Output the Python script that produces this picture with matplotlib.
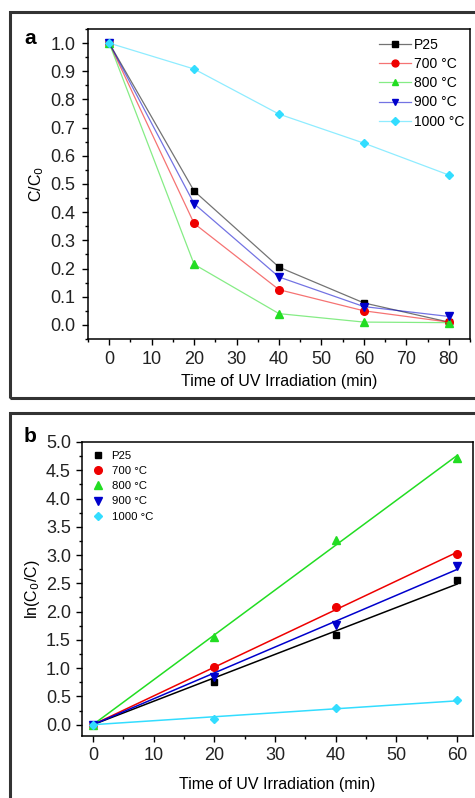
import numpy as np
import matplotlib.pyplot as plt
from matplotlib.patches import Rectangle
from matplotlib.ticker import MultipleLocator
from matplotlib.colors import to_rgba

plt.rcParams['font.family'] = ['Liberation Sans', 'DejaVu Sans']

labels = ["P25", "700 °C", "800 °C", "900 °C", "1000 °C"]
colors = ["#000000", "#ee0000", "#22dd22", "#0000cc", "#33ddff"]
markers = ["s", "o", "^", "v", "D"]

# panel a: C/C0 vs time
t_a = [0, 20, 40, 60, 80]
cc0 = [
    [1.0, 0.475, 0.205, 0.078, 0.010],
    [1.0, 0.360, 0.125, 0.050, 0.010],
    [1.0, 0.215, 0.040, 0.010, 0.008],
    [1.0, 0.430, 0.170, 0.065, 0.030],
    [1.0, 0.908, 0.748, 0.645, 0.532],
]

# panel b: ln(C0/C) vs time
t_b = [0, 20, 40, 60]
lnc = [
    [0, 0.75, 1.59, 2.56],
    [0, 1.02, 2.08, 3.02],
    [0, 1.55, 3.26, 4.72],
    [0, 0.85, 1.77, 2.81],
    [0, 0.10, 0.29, 0.43],
]

W, H = 475, 798
fig = plt.figure(figsize=(W / 100, H / 100), dpi=100)

def frac(x0, y0, x1, y1):
    return [x0 / W, 1 - y1 / H, (x1 - x0) / W, (y1 - y0) / H]

# outer frames
for y0, y1 in [(12, 398), (413, 805)]:
    fig.patches.append(Rectangle((10 / W, 1 - y1 / H), (480 - 10) / W, (y1 - y0) / H,
                                 transform=fig.transFigure, fill=False,
                                 edgecolor="#333333", linewidth=2.2))

def style(ax, pad):
    ax.tick_params(which="major", direction="out", length=4, width=1, labelsize=13, pad=pad,
                   top=False, right=False, labelcolor="#222222")
    ax.tick_params(which="minor", direction="out", length=2.5, width=1, top=False, right=False)
    for s in ax.spines.values():
        s.set_linewidth(1.1)

ms = {"s": 5, "o": 5.5, "^": 5.5, "v": 5.5, "D": 4.5}

ax = fig.add_axes(frac(88, 29, 470, 339))
hs = []
for y, c, m in zip(cc0, colors, markers):
    h, = ax.plot(t_a, y, color=to_rgba(c, 0.55), lw=0.9, marker=m, ms=ms[m],
                 markerfacecolor=c, markeredgecolor=c)
    hs.append(h)
ax.legend(hs, labels, loc="upper right", bbox_to_anchor=(1.0, 0.99), frameon=False,
          fontsize=10, handlelength=2.3, handletextpad=0.2, labelspacing=0.38,
          borderaxespad=0, markerscale=0.9)
ax.set_xlim(-5, 85)
ax.set_ylim(-0.05, 1.05)
ax.xaxis.set_major_locator(MultipleLocator(10))
ax.xaxis.set_minor_locator(MultipleLocator(5))
ax.yaxis.set_major_locator(MultipleLocator(0.1))
ax.yaxis.set_minor_locator(MultipleLocator(0.05))
ax.yaxis.set_major_formatter(plt.FormatStrFormatter("%.1f"))
style(ax, 5)
ax.set_xlabel("Time of UV Irradiation (min)", fontsize=11.5, labelpad=4)
ax.set_ylabel("C/C$_0$", fontsize=11.5, labelpad=3)
fig.text(24 / W, 1 - 44 / H, "a", fontsize=15, fontweight="bold", ha="left", va="baseline")

ax = fig.add_axes(frac(82, 442, 473, 736))
for y, c, m, lab in zip(lnc, colors, markers, labels):
    x = np.array(t_b, dtype=float)
    yy = np.array(y, dtype=float)
    k = np.sum(x * yy) / np.sum(x * x)
    ax.plot([x[0], x[-1]], [k * x[0], k * x[-1]], color=c, lw=1.1)
    ax.plot(t_b, y, ls="none", marker=m, color=c, ms=ms[m], label=lab)
ax.legend(loc="upper left", frameon=False, fontsize=8.2, handlelength=1.2,
          handletextpad=0.6, labelspacing=0.45, borderaxespad=0.4)
ax.set_xlim(-1.8, 62.6)
ax.set_ylim(-0.2, 5.0)
ax.xaxis.set_major_locator(MultipleLocator(10))
ax.xaxis.set_minor_locator(MultipleLocator(5))
ax.yaxis.set_major_locator(MultipleLocator(0.5))
ax.yaxis.set_minor_locator(MultipleLocator(0.25))
ax.yaxis.set_major_formatter(plt.FormatStrFormatter("%.1f"))
style(ax, 4)
ax.set_xlabel("Time of UV Irradiation (min)", fontsize=11.5, labelpad=9)
ax.set_ylabel("ln(C$_0$/C)", fontsize=11.5, labelpad=3)
fig.text(24 / W, 1 - 442 / H, "b", fontsize=15, fontweight="bold", ha="left", va="baseline")

fig.savefig("out.png", dpi=100)
